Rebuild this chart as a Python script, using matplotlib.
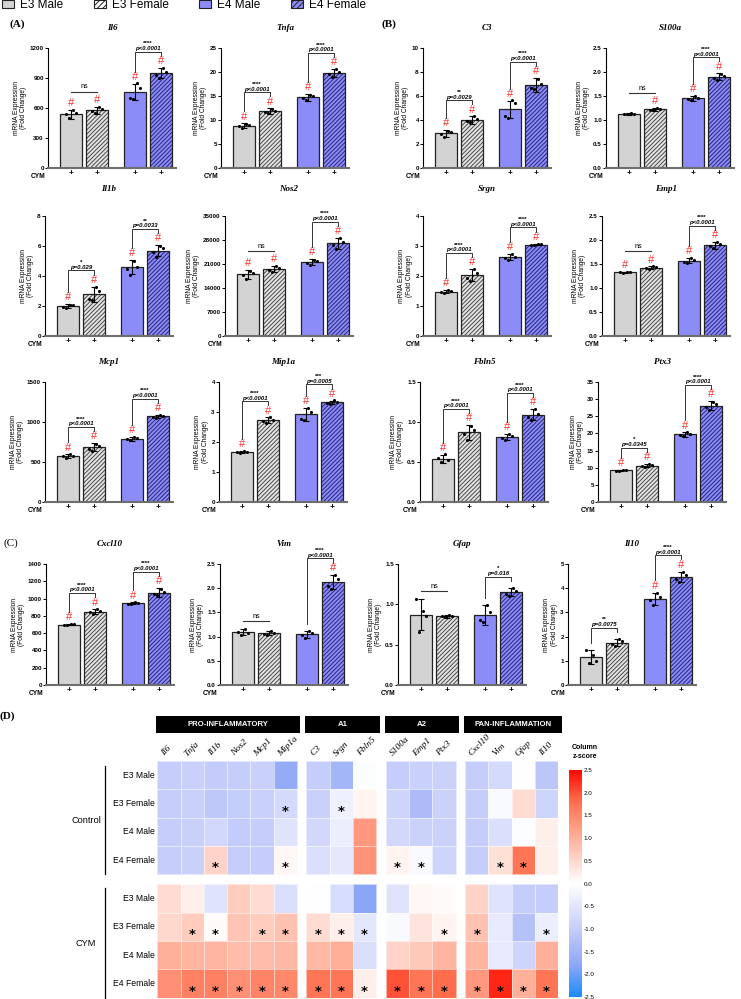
import numpy as np
import matplotlib
matplotlib.use("Agg")
import matplotlib.pyplot as plt
from matplotlib.patches import Patch, Rectangle
from matplotlib.colors import LinearSegmentedColormap, Normalize

plt.rcParams['font.family'] = ['Liberation Sans', 'DejaVu Sans']
plt.rcParams['hatch.linewidth'] = 0.7
plt.rcParams['axes.unicode_minus'] = False

W, H = 741, 999

# ---------------- bar chart data ----------------
groups = ['E3 Male', 'E3 Female', 'E4 Male', 'E4 Female']
genes = ['Il6', 'Tnfa', 'C3', 'S100a', 'Il1b', 'Nos2', 'Srgn', 'Emp1',
         'Mcp1', 'Mip1a', 'Fbln5', 'Ptx3', 'Cxcl10', 'Vim', 'Gfap', 'Il10']

mean_e3_male = [540, 8.8, 2.9, 1.13, 2.0, 18000, 1.48, 1.33, 575, 1.67, 0.54, 9.2, 700, 1.09, 0.87, 1.15]
mean_e3_female = [580, 11.8, 4.0, 1.22, 2.8, 19500, 2.03, 1.42, 685, 2.72, 0.87, 10.6, 850, 1.07, 0.85, 1.75]
mean_e4_male = [765, 14.7, 4.9, 1.45, 4.6, 21500, 2.63, 1.57, 790, 2.93, 0.81, 19.7, 945, 1.05, 0.87, 3.57]
mean_e4_female = [950, 19.8, 6.9, 1.90, 5.7, 27000, 3.05, 1.89, 1070, 3.32, 1.09, 28.1, 1070, 2.13, 1.15, 4.47]

sd_e3_male = [45, 0.5, 0.3, 0.02, 0.15, 1300, 0.05, 0.01, 20, 0.03, 0.05, 0.2, 10, 0.06, 0.19, 0.3]
sd_e3_female = [35, 0.6, 0.3, 0.03, 0.5, 900, 0.2, 0.03, 50, 0.1, 0.09, 0.5, 25, 0.04, 0.02, 0.15]
sd_e4_male = [80, 0.7, 0.7, 0.05, 0.45, 900, 0.1, 0.05, 25, 0.22, 0.04, 0.6, 10, 0.07, 0.12, 0.25]
sd_e4_female = [50, 0.8, 0.6, 0.07, 0.35, 1600, 0.03, 0.07, 20, 0.06, 0.07, 1.3, 50, 0.15, 0.05, 0.22]

pts_e3_male = [
    [540, 505, 585, 555], [8.7, 8.4, 9.1, 9.0], [2.8, 2.6, 3.1, 3.0], [1.13, 1.12, 1.14, 1.13],
    [1.95, 1.85, 2.1, 2.05], [17800, 16500, 19000, 18300], [1.47, 1.44, 1.52, 1.5], [1.33, 1.32, 1.34, 1.33],
    [570, 555, 595, 580], [1.66, 1.64, 1.7, 1.68], [0.55, 0.5, 0.6, 0.52], [9.1, 9.0, 9.4, 9.3],
    [700, 690, 710, 705], [1.1, 1.03, 1.16, 1.07], [1.07, 0.66, 0.92, 0.85], [1.45, 0.9, 1.25, 1.0],
]
pts_e3_female = [
    [575, 555, 610, 590], [11.7, 11.5, 12.3, 11.9], [3.9, 3.8, 4.3, 4.1], [1.21, 1.2, 1.25, 1.23],
    [2.5, 2.4, 3.3, 3.0], [19300, 18800, 20300, 19800], [1.95, 1.85, 2.25, 2.1], [1.41, 1.39, 1.46, 1.43],
    [660, 635, 730, 700], [2.7, 2.62, 2.82, 2.75], [0.85, 0.78, 0.95, 0.9], [10.4, 10.1, 11.1, 10.8],
    [840, 825, 875, 855], [1.06, 1.03, 1.11, 1.08], [0.85, 0.84, 0.87, 0.86], [1.7, 1.6, 1.9, 1.8],
]
pts_e4_male = [
    [700, 695, 850, 800], [14.6, 14.1, 15.3, 15.0], [4.3, 4.2, 5.7, 5.4], [1.44, 1.41, 1.49, 1.46],
    [4.5, 4.1, 5.0, 4.6], [21200, 20800, 22300, 21800], [2.6, 2.55, 2.75, 2.65], [1.55, 1.53, 1.62, 1.58],
    [785, 770, 815, 795], [2.78, 2.75, 3.15, 3.0], [0.8, 0.78, 0.85, 0.82], [19.5, 19.2, 20.3, 19.9],
    [942, 935, 955, 948], [1.03, 0.98, 1.12, 1.07], [0.8, 0.78, 0.99, 0.9], [3.5, 3.3, 3.8, 3.65],
]
pts_e4_female = [
    [935, 905, 1005, 960], [19.5, 19.0, 20.6, 20.1], [6.7, 6.6, 7.4, 7.0], [1.88, 1.84, 1.96, 1.91],
    [5.6, 5.3, 6.0, 5.9], [26500, 25500, 28500, 27500], [3.04, 3.02, 3.08, 3.06], [1.87, 1.83, 1.96, 1.91],
    [1065, 1050, 1090, 1075], [3.3, 3.26, 3.39, 3.34], [1.06, 1.02, 1.16, 1.1], [27.8, 26.9, 29.3, 28.5],
    [1050, 1040, 1115, 1075], [2.05, 1.98, 2.28, 2.2], [1.13, 1.1, 1.2, 1.17], [4.4, 4.25, 4.65, 4.55],
]

y_max = [1200, 25, 10, 2.5, 8, 35000, 4, 2.5, 1500, 4, 1.5, 35, 1400, 2.5, 1.5, 5]
y_step = [300, 5, 2, 0.5, 2, 7000, 1, 0.5, 500, 1, 0.5, 5, 200, 0.5, 0.5, 1]

# red '#' = significant vs control
hash_e3_male = [1, 1, 1, 0, 1, 1, 1, 1, 1, 1, 1, 1, 1, 0, 0, 0]
hash_e3_female = [1, 1, 1, 1, 1, 1, 1, 1, 1, 1, 1, 1, 1, 0, 0, 0]
hash_e4_male = [1, 1, 1, 1, 1, 1, 1, 1, 1, 1, 1, 1, 1, 0, 0, 1]
hash_e4_female = [1, 1, 1, 1, 1, 1, 1, 1, 1, 1, 1, 1, 1, 1, 0, 1]

sig_e3 = ['ns', '****', '**', 'ns', '*', 'ns', '****', 'ns', '****', '****', '****', '*', '****', 'ns', 'ns', '**']
p_e3 = ['', 'p<0.0001', 'p=0.0029', '', 'p=0.029', '', 'p<0.0001', '', 'p<0.0001', 'p<0.0001',
        'p<0.0001', 'p=0.0345', 'p<0.0001', '', '', 'p=0.0075']
sig_e4 = ['****', '****', '****', '****', '**', '****', '****', '****', '****', '***', '****', '****',
          '****', '****', '*', '****']
p_e4 = ['p<0.0001', 'p<0.0001', 'p<0.0001', 'p<0.0001', 'p=0.0033', 'p<0.0001', 'p<0.0001', 'p<0.0001',
        'p<0.0001', 'p=0.0005', 'p<0.0001', 'p<0.0001', 'p<0.0001', 'p<0.0001', 'p=0.016', 'p<0.0001']

# ---------------- heatmap data (column z-scores) ----------------
hm_genes = ['Il6', 'Tnfa', 'Il1b', 'Nos2', 'Mcp1', 'Mip1a', 'C3', 'Srgn', 'Fbln5',
            'S100a', 'Emp1', 'Ptx3', 'Cxcl10', 'Vim', 'Gfap', 'Il10']
hm_blocks = ['PRO-INFLAMMATORY', 'A1', 'A2', 'PAN-INFLAMMATION']
hm_block_sizes = [6, 3, 3, 4]
hm_conditions = ['Control', 'CYM']

z_ctrl_e3_male = [-1.0, -0.95, -1.05, -1.0, -0.95, -1.7, -1.0, -1.5, -0.05, -1.0, -0.95, -0.9, -1.0, -0.75, 0.0, -1.15]
z_ctrl_e3_female = [-1.0, -0.95, -1.1, -1.0, -0.95, -0.75, -0.95, -0.3, 0.15, -0.85, -1.35, -0.9, -1.0, -0.1, 0.45, -0.85]
z_ctrl_e4_male = [-1.0, -0.95, -0.8, -1.05, -1.0, -0.55, -0.8, -0.35, 1.3, -0.8, -0.9, -0.9, -1.0, -0.65, -0.05, 0.2]
z_ctrl_e4_female = [-1.0, -0.95, 0.55, -1.0, -1.0, 0.1, -0.65, -0.45, 1.35, 0.15, -0.1, -0.85, -1.0, 0.4, 1.7, 0.2]
z_cym_e3_male = [0.45, 0.2, -0.55, 0.65, 0.45, -0.65, 0.0, -0.7, -1.8, -0.55, 0.1, 0.05, 0.55, -0.55, -1.0, -1.0]
z_cym_e3_female = [0.5, 0.65, 0.05, 0.75, 0.65, 0.8, 0.45, 0.2, -0.5, -0.1, 0.35, 0.15, 0.8, -0.4, -1.25, -0.35]
z_cym_e4_male = [1.0, 0.95, 0.95, 0.85, 0.85, 0.9, 0.9, 1.05, -0.65, 0.55, 0.7, 0.95, 0.95, -0.4, -0.85, 1.0]
z_cym_e4_female = [1.4, 1.6, 1.6, 1.4, 1.55, 1.5, 1.7, 1.7, 0.2, 2.0, 1.7, 1.8, 1.3, 2.3, 1.0, 1.7]

star_ctrl_e3_female = [0, 0, 0, 0, 0, 1, 0, 1, 0, 0, 0, 0, 0, 0, 0, 0]
star_ctrl_e4_female = [0, 0, 1, 0, 0, 1, 0, 0, 0, 1, 1, 0, 0, 1, 1, 0]
star_cym_e3_female = [0, 1, 1, 0, 1, 1, 1, 1, 1, 0, 0, 1, 1, 0, 0, 1]
star_cym_e4_female = [0, 1, 1, 1, 1, 1, 1, 1, 1, 1, 1, 1, 1, 1, 1, 1]
star_none = [0] * 16

# ---------------- figure ----------------
fig = plt.figure(figsize=(W / 100, H / 100), dpi=100)


def px_axes(left, top, width, height):
    return fig.add_axes([left / W, 1 - (top + height) / H, width / W, height / H])


xs = np.array([0, 1, 2.46, 3.46])
bar_w = 0.846
face = ['#d3d3d3', '#e4e4e4', '#8c8cf8', '#8c8cf8']
hatch_col = [None, '#4a4a4a', None, '#26267a']
dot_dx = np.array([-0.2, -0.07, 0.07, 0.2])
hash_red = '#ff3030'
narrow = ['Liberation Sans Narrow', 'Liberation Sans']
serif = ['Liberation Serif', 'DejaVu Serif']

row_top = [48, 216, 382, 564]
row_h = [120, 120, 120, 121]
title_pad = [12.6, 18, 13, 12.7]
bar1_left = [[60, 233, 435, 618], [57, 237, 435, 614], [57, 231, 432, 610], [58, 232, 410, 580]]


def draw_pair(ax, a, b, tops, hashes, star, ptxt, ymax):
    if star == 'ns':
        y = max(tops[a], tops[b]) + (0.125 if (hashes[a] or hashes[b]) else 0.07) * ymax
        ax.plot([xs[a], xs[b]], [y, y], color='#333333', lw=0.8, clip_on=False)
        ax.text((xs[a] + xs[b]) / 2, y + 0.01 * ymax, 'ns', fontsize=5.2, ha='center', va='bottom')
        return
    legs = [tops[i] + (0.1 if hashes[i] else 0.06) * ymax for i in (a, b)]
    y = max(legs) + 0.035 * ymax
    ax.plot([xs[a], xs[a], xs[b], xs[b]], [legs[0], y, y, legs[1]], color='#333333', lw=0.7,
            clip_on=False)
    ax.text((xs[a] + xs[b]) / 2, y + 0.005 * ymax, ptxt, fontsize=4.3, style='italic',
            weight='bold', ha='center', va='bottom')
    ax.text((xs[a] + xs[b]) / 2, y + 0.045 * ymax, star, fontsize=4.5, weight='bold',
            ha='center', va='bottom')


for g, gene in enumerate(genes):
    r, c = divmod(g, 4)
    left = bar1_left[r][c] - 12
    ax = px_axes(left, row_top[r], 128, row_h[r])
    means = [mean_e3_male[g], mean_e3_female[g], mean_e4_male[g], mean_e4_female[g]]
    sds = [sd_e3_male[g], sd_e3_female[g], sd_e4_male[g], sd_e4_female[g]]
    pts = [pts_e3_male[g], pts_e3_female[g], pts_e4_male[g], pts_e4_female[g]]
    hashes = [hash_e3_male[g], hash_e3_female[g], hash_e4_male[g], hash_e4_female[g]]
    ymax = y_max[g]
    tops = [m + s for m, s in zip(means, sds)]
    for i in range(4):
        ax.bar(xs[i], means[i], bar_w, color=face[i], edgecolor='none', zorder=2)
        if hatch_col[i]:
            ax.bar(xs[i], means[i], bar_w, color='none', edgecolor=hatch_col[i], hatch='////////',
                   lw=0, zorder=2.1)
        ax.bar(xs[i], means[i], bar_w, color='none', edgecolor='#222222', lw=0.9, zorder=2.2)
        ax.errorbar(xs[i], means[i], yerr=sds[i], fmt='none', ecolor='black', elinewidth=0.8,
                    capsize=2.2, capthick=0.8, zorder=3)
        ax.scatter(xs[i] + dot_dx, pts[i], s=5, color='black', linewidths=0, zorder=4)
        if hashes[i]:
            ax.text(xs[i], tops[i] + 0.015 * ymax, '#', color=hash_red, fontsize=8,
                    ha='center', va='bottom', zorder=5)
    draw_pair(ax, 0, 1, tops, hashes, sig_e3[g], p_e3[g], ymax)
    draw_pair(ax, 2, 3, tops, hashes, sig_e4[g], p_e4[g], ymax)

    ax.set_xlim(-0.885, 4.04)
    ax.set_ylim(0, ymax)
    ticks = np.arange(0, ymax + y_step[g] / 2, y_step[g])
    fmt = '{:.1f}' if y_step[g] < 1 else '{:.0f}'
    ax.set_yticks(ticks, [fmt.format(t) for t in ticks])
    ax.tick_params(axis='y', labelsize=4.5, length=2, width=0.7, pad=1)
    for lbl in ax.get_yticklabels():
        lbl.set_fontweight('bold')
    ax.set_xticks(xs, ['+'] * 4)
    ax.tick_params(axis='x', length=0, labelsize=6, pad=1.5)
    for lbl in ax.get_xticklabels():
        lbl.set_fontweight('bold')
    for s in ('top', 'right'):
        ax.spines[s].set_visible(False)
    ax.spines['left'].set_linewidth(0.8)
    ax.spines['bottom'].set_color('#6e6e6e')
    ax.spines['bottom'].set_linewidth(1.5)
    ax.set_ylabel('mRNA Expression\n(Fold Change)', fontsize=4.8, labelpad=2, linespacing=1.1)
    ax.set_title(gene, fontsize=6.5, style='italic', weight='bold', family=serif, pad=title_pad[r])
    ax.annotate('CYM', xy=(0, 0), xycoords='axes fraction', xytext=(-2, -6.3),
                textcoords='offset points', ha='right', va='center', fontsize=4.8, weight='bold')

# legend
handles = [Patch(facecolor=face[0], edgecolor='#222222', lw=0.8),
           Patch(facecolor='white', edgecolor='#222222', hatch='//////', lw=0.8),
           Patch(facecolor=face[2], edgecolor='#222222', lw=0.8),
           Patch(facecolor=face[3], edgecolor='#222222', hatch='//////', lw=0.8)]
fig.legend(handles, groups, loc='upper left', bbox_to_anchor=(0.0, 1.003), ncol=4, frameon=False,
           fontsize=8.5, handlelength=1.0, handleheight=0.7, handletextpad=0.5,
           columnspacing=2.6, borderpad=0.1, borderaxespad=0.1)

fig.text(10 / W, 1 - 24 / H, '(A)', fontsize=8, weight='bold', family=serif, va='center')
fig.text(382 / W, 1 - 24 / H, '(B)', fontsize=8, weight='bold', family=serif, va='center')
fig.text(4 / W, 1 - 543 / H, '(C)', fontsize=8, family=serif, va='center')
fig.text(0 / W, 1 - 716 / H, '(D)', fontsize=8, weight='bold', family=serif, va='center')

# ---------------- heatmap ----------------
z = np.array([z_ctrl_e3_male, z_ctrl_e3_female, z_ctrl_e4_male, z_ctrl_e4_female,
              z_cym_e3_male, z_cym_e3_female, z_cym_e4_male, z_cym_e4_female])
stars = np.array([star_none, star_ctrl_e3_female, star_none, star_ctrl_e4_female,
                  star_none, star_cym_e3_female, star_none, star_cym_e4_female])

cm_pos = [-2.5, -1.8, -1.0, 0.0, 1.0, 1.8, 2.5]
cm_cols = ['#1a8cff', '#8ea7f7', '#c6cefa', '#ffffff', '#ffb19b', '#ff6f4f', '#ff0a00']
cmap = LinearSegmentedColormap.from_list('zs', [((p + 2.5) / 5, col) for p, col in zip(cm_pos, cm_cols)])
norm = Normalize(-2.5, 2.5)

gap_x, gap_y = 0.41, 0.36
x_off = np.concatenate([[0], np.cumsum(np.array(hm_block_sizes[:-1]) + gap_x)])
y_off = [0, 4 + gap_y]
total_w = sum(hm_block_sizes) + gap_x * 3
total_h = 8 + gap_y

hx = px_axes(157.3, 761, 401, 236.6)
col_x = []
c0 = 0
for b, n in enumerate(hm_block_sizes):
    for gi, yo in enumerate(y_off):
        mesh = hx.pcolormesh(x_off[b] + np.arange(n + 1), yo + np.arange(5),
                             z[gi * 4:gi * 4 + 4, c0:c0 + n], cmap=cmap, norm=norm,
                             edgecolors=(1, 1, 1, 0.55), linewidth=0.4)
    col_x.extend(x_off[b] + np.arange(n) + 0.5)
    hx.add_patch(Rectangle((x_off[b] - 0.05, -1.59), n + 0.2, 0.6, facecolor='black',
                           clip_on=False))
    hx.text(x_off[b] + n / 2 + 0.05, -1.29, hm_blocks[b], color='white', fontsize=5.6,
            weight='bold', ha='center', va='center', family=narrow)
    c0 += n

for j, name in enumerate(hm_genes):
    hx.text(col_x[j] - 0.15, -0.12, name, rotation=45, rotation_mode='anchor', ha='left',
            va='bottom', fontsize=6.8, style='italic', family=serif)

row_y = []
for gi, yo in enumerate(y_off):
    row_y.extend(yo + np.arange(4) + 0.5)
    hx.plot([-2.24, -2.24], [yo + 0.18 if gi == 0 else yo + 0.13, yo + 4], color='black', lw=0.9,
            clip_on=False)
    hx.text(-3.06, yo + 2.1, hm_conditions[gi], fontsize=6.6, ha='center', va='center',
            family=narrow)
for i in range(8):
    hx.text(-0.1, row_y[i], groups[i % 4], fontsize=6.2, ha='right', va='center', family=narrow)
    for j in range(16):
        if stars[i, j]:
            hx.text(col_x[j], row_y[i] + 0.28, '*', fontsize=9.5, weight='bold', ha='center',
                    va='center', family=['DejaVu Sans'])

hx.set_xlim(0, total_w)
hx.set_ylim(total_h, 0)
hx.axis('off')

cax = px_axes(569, 770, 12.5, 227)
cb = fig.colorbar(mesh, cax=cax, ticks=np.arange(-2.5, 2.51, 0.5))
cb.outline.set_visible(False)
cax.tick_params(length=0, labelsize=4.5, pad=1.5)
cax.set_yticklabels(['{:.1f}'.format(t) for t in np.arange(-2.5, 2.51, 0.5)])
fig.text(585 / W, 1 - 752 / H, 'Column\nz-score', fontsize=5, weight='bold', ha='center',
         va='center', linespacing=1.3)

fig.savefig('out.png', dpi=100)
